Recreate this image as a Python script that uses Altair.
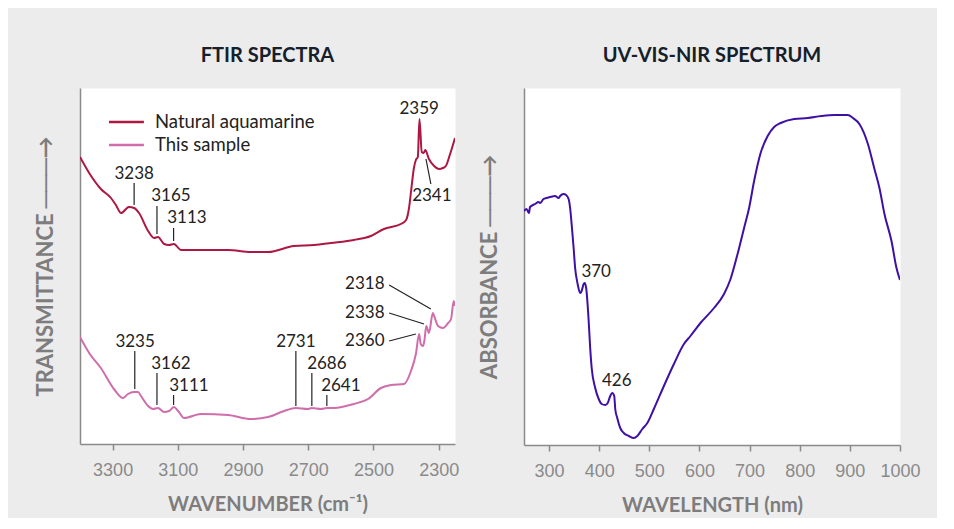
import altair as alt
import pandas as pd

# ---------------- data ----------------
nat_wn = [3400, 3370, 3336, 3305, 3290, 3274, 3250, 3234, 3219, 3191, 3173, 3161, 3142, 3127, 3112, 3090,
          3029, 2946, 2876, 2823, 2744, 2682, 2630, 2560, 2508, 2468, 2416, 2400, 2391, 2385, 2376, 2370,
          2364, 2359, 2352, 2346, 2341, 2330, 2314, 2299, 2287, 2278, 2265, 2250]
nat_t = [287, 270, 255, 246, 239, 231, 237, 236, 231, 213, 206, 207, 200, 199, 200, 194,
         194, 194, 192, 192, 198, 199, 201, 204, 208, 215, 220, 224, 236, 252, 276, 284,
         287, 325, 292, 291, 294, 285, 278, 275, 276, 278, 290, 306]

smp_wn = [3400, 3370, 3336, 3296, 3268, 3253, 3234, 3222, 3213, 3191, 3176, 3161, 3142, 3127, 3112, 3099,
          3081, 3029, 2946, 2876, 2823, 2774, 2738, 2701, 2689, 2661, 2643, 2621, 2560, 2517, 2477, 2446,
          2406, 2385, 2370, 2360, 2355, 2348, 2344, 2338, 2330, 2318, 2314, 2302, 2287, 2271, 2262, 2254, 2250]
smp_t = [107, 90, 76, 55, 46, 50, 52, 52, 48, 38, 35, 36, 32, 33, 37, 33,
         26, 30, 29, 25, 27, 33, 36, 35, 36, 35, 36, 36, 40, 45, 56, 59,
         60, 73, 90, 110, 100, 98, 103, 118, 111, 131, 128, 118, 116, 121, 125, 143, 138]

uv_nm = [250, 255, 260, 262, 272, 279, 282, 289, 295, 302, 312, 319, 322, 329, 334, 339, 342, 345, 349, 352,
         357, 362, 365, 369, 371, 374, 379, 382, 385, 392, 399, 405, 412, 417, 422, 426, 430, 432, 436, 442,
         449, 459, 469, 476, 486, 496, 509, 529, 549, 569, 582, 602, 629, 649, 662, 676, 689, 699, 709, 722,
         736, 749, 762, 789, 816, 843, 869, 883, 896, 906, 919, 936, 949, 959, 969, 983, 993, 1000]
uv_abs = [234, 236, 232, 238, 241, 243, 242, 246, 247, 248, 249, 247, 249, 251, 250, 246, 237, 221, 197, 177,
          161, 152, 154, 161, 162, 157, 124, 97, 77, 57, 46, 41, 40, 42, 49, 52, 49, 36, 27, 17,
          12, 9, 7, 9, 16, 22, 36, 59, 81, 101, 109, 122, 137, 151, 166, 191, 217, 237, 264, 292,
          309, 318, 322, 326, 327, 329, 330, 330, 330, 327, 321, 301, 276, 257, 231, 204, 177, 165]

series_names = ["Natural aquamarine", "This sample"]
series_colors = ["#ad1842", "#cf6eaa"]
uv_color = "#3f10a4"

ftir_ticks = [3300, 3100, 2900, 2700, 2500, 2300]
uv_ticks = [300, 400, 500, 600, 700, 800, 900, 1000]

# FTIR peak labels (text, wavenumber, level)
ftir_lab_text = ["3238", "3165", "3113", "2359", "2341", "3235", "3162", "3111", "2731", "2686", "2641"]
ftir_lab_wn = [3234, 3121, 3072, 2360, 2321, 3231, 3121, 3066, 2738, 2643, 2600]
ftir_lab_t = [270, 248, 226, 335, 248, 102, 80, 58, 102, 80, 58]
ftir_rlab_text = ["2318", "2338", "2360"]
ftir_rlab_wn = [2466, 2466, 2466]
ftir_rlab_t = [160, 131, 103]
# leader lines
ld_wn = [3234, 3164, 3113, 2339, 3232, 3164, 3113, 2738, 2689, 2643, 2452, 2452, 2452]
ld_t = [261, 238, 216, 285, 93, 71, 49, 93, 71, 49, 159, 131, 103]
ld_wn2 = [3234, 3164, 3113, 2324, 3232, 3164, 3113, 2738, 2689, 2643, 2324, 2345, 2370]
ld_t2 = [239, 210, 203, 260, 55, 39, 39, 38, 38, 38, 135, 120, 110]
# legend
leg_wn, leg_wn2, leg_txt_wn = 3311, 3204, 3170
leg_t = [322, 299]

uv_lab_text = ["370", "426"]
uv_lab_nm = [394, 435]
uv_lab_abs = [173, 64]

# ---------------- frames ----------------
ftir_df = pd.DataFrame({
    "wn": nat_wn + smp_wn,
    "t": nat_t + smp_t,
    "series": [series_names[0]] * len(nat_wn) + [series_names[1]] * len(smp_wn),
})
lab_df = pd.DataFrame({"wn": ftir_lab_wn, "t": ftir_lab_t, "label": ftir_lab_text})
rlab_df = pd.DataFrame({"wn": ftir_rlab_wn, "t": ftir_rlab_t, "label": ftir_rlab_text})
lead_df = pd.DataFrame({"wn": ld_wn, "t": ld_t, "wn2": ld_wn2, "t2": ld_t2})
leg_df = pd.DataFrame({"wn": [leg_wn] * 2, "wn2": [leg_wn2] * 2, "tw": [leg_txt_wn] * 2,
                       "t": leg_t, "series": series_names})
uv_df = pd.DataFrame({"nm": uv_nm, "a": uv_abs})
uvlab_df = pd.DataFrame({"nm": uv_lab_nm, "a": uv_lab_abs, "label": uv_lab_text})

LAB_FONT = "Lato"
AX_COL = "#7d7d7d"
ARROW = "  ───→"

xs_f = alt.Scale(domain=[3400, 2250], nice=False, zero=False)
ys_f = alt.Scale(domain=[0, 356], nice=False, zero=False)
x_ax_f = alt.Axis(values=ftir_ticks, format="d", title="WAVENUMBER (cm⁻¹)", labelOverlap=False, labelFlush=False)
y_ax_f = alt.Axis(labels=False, ticks=False, title="TRANSMITTANCE" + ARROW)
xf = alt.X("wn:Q", scale=xs_f, axis=x_ax_f)
yf = alt.Y("t:Q", scale=ys_f, axis=y_ax_f)
cscale = alt.Scale(domain=series_names, range=series_colors)

lines_f = alt.Chart(ftir_df).mark_line(strokeWidth=2, interpolate="monotone", clip=True).encode(
    x=xf, y=yf, color=alt.Color("series:N", scale=cscale, legend=None), detail="series:N")
labs_f = alt.Chart(lab_df).mark_text(font=LAB_FONT, fontSize=17, color="#222222", baseline="middle", align="center").encode(
    x=xf, y=yf, text="label:N")
rlabs_f = alt.Chart(rlab_df).mark_text(font=LAB_FONT, fontSize=17, color="#222222", baseline="middle", align="right").encode(
    x=xf, y=yf, text="label:N")
lead_f = alt.Chart(lead_df).mark_rule(color="#222222", strokeWidth=1.2).encode(
    x=xf, y=yf, x2="wn2:Q", y2="t2:Q")
leg_lines = alt.Chart(leg_df).mark_rule(strokeWidth=2.5).encode(
    x=xf, y=yf, x2="wn2:Q", color=alt.Color("series:N", scale=cscale, legend=None))
leg_text = alt.Chart(leg_df).mark_text(font=LAB_FONT, fontSize=18.5, color="#222222", align="left", baseline="middle").encode(
    x=alt.X("tw:Q", scale=xs_f, axis=x_ax_f), y=yf, text="series:N")

title_style = dict(font="Lato", fontSize=20, fontWeight="bold", color="#15202a", anchor="middle", offset=22)

left = alt.layer(lines_f, lead_f, labs_f, rlabs_f, leg_lines, leg_text).properties(
    width=375, height=356, title=alt.TitleParams("FTIR SPECTRA", **title_style))

xs_u = alt.Scale(domain=[250, 1000], nice=False, zero=False)
ys_u = alt.Scale(domain=[0, 357], nice=False, zero=False)
xu = alt.X("nm:Q", scale=xs_u, axis=alt.Axis(values=uv_ticks, format="d", title="WAVELENGTH (nm)",
                                              labelOverlap=False, labelFlush=False))
yu = alt.Y("a:Q", scale=ys_u, axis=alt.Axis(labels=False, ticks=False, title="ABSORBANCE" + ARROW))

uv_line = alt.Chart(uv_df).mark_line(strokeWidth=2, color=uv_color, interpolate="monotone", clip=True).encode(x=xu, y=yu)
uv_labs = alt.Chart(uvlab_df).mark_text(font=LAB_FONT, fontSize=17, color="#222222", baseline="middle", align="center").encode(
    x=xu, y=yu, text="label:N")

right = alt.layer(uv_line, uv_labs).properties(
    width=376, height=357, title=alt.TitleParams("UV-VIS-NIR SPECTRUM", **title_style))

chart = alt.hconcat(left, right, spacing=69, bounds="flush").properties(
    background="#ececec",
    padding={"left": 25, "top": 37, "right": 16, "bottom": 2},
).configure_view(
    fill="white", stroke="transparent"
).configure_axis(
    grid=False,
    domainColor="#8a8a8a", domainWidth=1.5,
    tickColor="#8a8a8a", tickWidth=1.5, tickSize=6,
    labelColor="#8a8a8a", labelFont="Liberation Sans", labelFontSize=18, labelPadding=11,
    titleColor=AX_COL, titleFont="Lato", titleFontWeight="bold", titleFontSize=20,
    titlePadding=15,
).configure_axisY(
    titlePadding=23, titleFontSize=22,
)

chart.save("out.html", embed_options={"renderer": "svg", "actions": False})
